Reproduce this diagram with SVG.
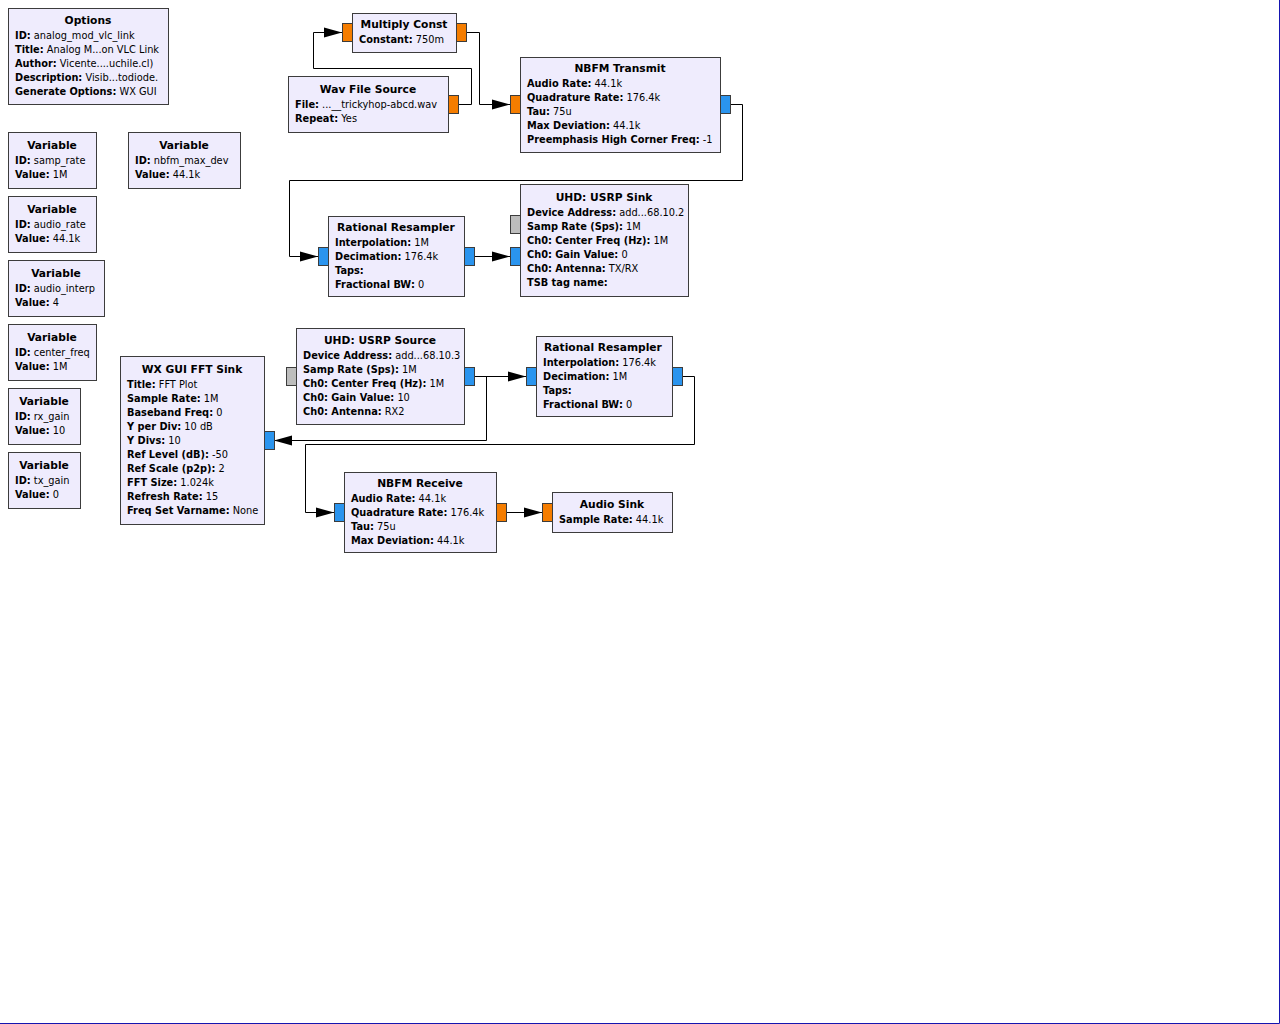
<svg xmlns="http://www.w3.org/2000/svg" width="1280" height="1024" viewBox="0 0 1280 1024">
  <style>
    .blk { fill: #efecfd; stroke: #3c3c3c; stroke-width: 1; }
    .pf { fill: #f57d00; stroke: #3c3c3c; stroke-width: 1; }
    .pc { fill: #2a94ee; stroke: #3c3c3c; stroke-width: 1; }
    .pm { fill: #bdbdbd; stroke: #3c3c3c; stroke-width: 1; }
    text { font-family: "DejaVu Sans", "Liberation Sans", sans-serif; font-size: 9.8px; fill: #000; }
    .t { font-weight: bold; text-anchor: middle; font-size: 10.7px; }
    .k { font-weight: bold; }
    .wire { fill: none; stroke: #000; stroke-width: 1; }
    .arr { fill: #000; stroke: none; }
  </style>

  <rect x="0" y="0" width="1280" height="1024" fill="#ffffff"/>
  <path d="M0 1023.5 H1279.5 V0" fill="none" stroke="#1515b0" stroke-width="1"/>

  <!-- connectors -->
  <g id="connectors">
    <!-- wav source -> multiply const -->
    <path class="wire" d="M458 104.5 H471.5 V68.5 H313.5 V32.5 H342"/>
    <polygon class="arr" points="342,32.5 324,27.5 324,37.5"/>
    <!-- multiply const -> nbfm transmit -->
    <path class="wire" d="M466 32.5 H479.5 V104.5 H510"/>
    <polygon class="arr" points="510,104.5 492,99.5 492,109.5"/>
    <!-- nbfm transmit -> rational resampler (tx) -->
    <path class="wire" d="M730 104.5 H742.5 V180.5 H289.5 V256.5 H318"/>
    <polygon class="arr" points="318,256.5 300,251.5 300,261.5"/>
    <!-- rational resampler (tx) -> usrp sink -->
    <path class="wire" d="M474 256.5 H510"/>
    <polygon class="arr" points="510,256.5 492,251.5 492,261.5"/>
    <!-- usrp source -> rational resampler (rx) -->
    <path class="wire" d="M474 376.5 H526"/>
    <polygon class="arr" points="526,376.5 508,371.5 508,381.5"/>
    <!-- usrp source -> fft sink -->
    <path class="wire" d="M486.5 376.5 V440.5 H274"/>
    <polygon class="arr" points="274,440.5 292,435.5 292,445.5"/>
    <!-- rational resampler (rx) -> nbfm receive -->
    <path class="wire" d="M682 376.5 H694.5 V444.5 H305.5 V512.5 H334"/>
    <polygon class="arr" points="334,512.5 316,507.5 316,517.5"/>
    <!-- nbfm receive -> audio sink -->
    <path class="wire" d="M506 512.5 H542"/>
    <polygon class="arr" points="542,512.5 524,507.5 524,517.5"/>
  </g>

  <!-- options -->
  <g id="options">
    <rect class="blk" x="8.5" y="8.5" width="160" height="96"/>
    <text class="t" x="88" y="24">Options</text>
    <text x="15" y="39"><tspan class="k">ID:</tspan> analog_mod_vlc_link</text>
    <text x="15" y="53"><tspan class="k">Title:</tspan> Analog M...on VLC Link</text>
    <text x="15" y="67"><tspan class="k">Author:</tspan> Vicente....uchile.cl)</text>
    <text x="15" y="81"><tspan class="k">Description:</tspan> Visib...todiode.</text>
    <text x="15" y="95"><tspan class="k">Generate Options:</tspan> WX GUI</text>
  </g>

  <!-- variables -->
  <g id="var_samp_rate">
    <rect class="blk" x="8.5" y="132.5" width="88" height="56"/>
    <text class="t" x="52" y="149">Variable</text>
    <text x="15" y="164"><tspan class="k">ID:</tspan> samp_rate</text>
    <text x="15" y="178"><tspan class="k">Value:</tspan> 1M</text>
  </g>
  <g id="var_audio_rate">
    <rect class="blk" x="8.5" y="196.5" width="88" height="56"/>
    <text class="t" x="52" y="213">Variable</text>
    <text x="15" y="228"><tspan class="k">ID:</tspan> audio_rate</text>
    <text x="15" y="242"><tspan class="k">Value:</tspan> 44.1k</text>
  </g>
  <g id="var_audio_interp">
    <rect class="blk" x="8.5" y="260.5" width="96" height="56"/>
    <text class="t" x="56" y="277">Variable</text>
    <text x="15" y="292"><tspan class="k">ID:</tspan> audio_interp</text>
    <text x="15" y="306"><tspan class="k">Value:</tspan> 4</text>
  </g>
  <g id="var_center_freq">
    <rect class="blk" x="8.5" y="324.5" width="88" height="56"/>
    <text class="t" x="52" y="341">Variable</text>
    <text x="15" y="356"><tspan class="k">ID:</tspan> center_freq</text>
    <text x="15" y="370"><tspan class="k">Value:</tspan> 1M</text>
  </g>
  <g id="var_rx_gain">
    <rect class="blk" x="8.5" y="388.5" width="72" height="56"/>
    <text class="t" x="44" y="405">Variable</text>
    <text x="15" y="420"><tspan class="k">ID:</tspan> rx_gain</text>
    <text x="15" y="434"><tspan class="k">Value:</tspan> 10</text>
  </g>
  <g id="var_tx_gain">
    <rect class="blk" x="8.5" y="452.5" width="72" height="56"/>
    <text class="t" x="44" y="469">Variable</text>
    <text x="15" y="484"><tspan class="k">ID:</tspan> tx_gain</text>
    <text x="15" y="498"><tspan class="k">Value:</tspan> 0</text>
  </g>
  <g id="var_nbfm_max_dev">
    <rect class="blk" x="128.5" y="132.5" width="112" height="56"/>
    <text class="t" x="184" y="149">Variable</text>
    <text x="135" y="164"><tspan class="k">ID:</tspan> nbfm_max_dev</text>
    <text x="135" y="178"><tspan class="k">Value:</tspan> 44.1k</text>
  </g>

  <!-- transmit chain -->
  <g id="multiply_const">
    <rect class="blk" x="352.5" y="13.5" width="104" height="39"/>
    <rect class="pf" x="342.5" y="23.5" width="10" height="18"/>
    <rect class="pf" x="456.5" y="23.5" width="10" height="18"/>
    <text class="t" x="404" y="28">Multiply Const</text>
    <text x="359" y="43"><tspan class="k">Constant:</tspan> 750m</text>
  </g>
  <g id="wav_file_source">
    <rect class="blk" x="288.5" y="76.5" width="160" height="56"/>
    <rect class="pf" x="448.5" y="95.5" width="10" height="18"/>
    <text class="t" x="368" y="93">Wav File Source</text>
    <text x="295" y="108"><tspan class="k">File:</tspan> ...__trickyhop-abcd.wav</text>
    <text x="295" y="122"><tspan class="k">Repeat:</tspan> Yes</text>
  </g>
  <g id="nbfm_tx">
    <rect class="blk" x="520.5" y="57.5" width="200" height="95"/>
    <rect class="pf" x="510.5" y="95.5" width="10" height="18"/>
    <rect class="pc" x="720.5" y="95.5" width="10" height="18"/>
    <text class="t" x="620" y="72">NBFM Transmit</text>
    <text x="527" y="87"><tspan class="k">Audio Rate:</tspan> 44.1k</text>
    <text x="527" y="101"><tspan class="k">Quadrature Rate:</tspan> 176.4k</text>
    <text x="527" y="115"><tspan class="k">Tau:</tspan> 75u</text>
    <text x="527" y="129"><tspan class="k">Max Deviation:</tspan> 44.1k</text>
    <text x="527" y="143"><tspan class="k">Preemphasis High Corner Freq:</tspan> -1</text>
  </g>
  <g id="resampler_tx">
    <rect class="blk" x="328.5" y="216.5" width="136" height="80"/>
    <rect class="pc" x="318.5" y="247.5" width="10" height="18"/>
    <rect class="pc" x="464.5" y="247.5" width="10" height="18"/>
    <text class="t" x="396" y="231">Rational Resampler</text>
    <text x="335" y="246"><tspan class="k">Interpolation:</tspan> 1M</text>
    <text x="335" y="260"><tspan class="k">Decimation:</tspan> 176.4k</text>
    <text x="335" y="274"><tspan class="k">Taps:</tspan></text>
    <text x="335" y="288"><tspan class="k">Fractional BW:</tspan> 0</text>
  </g>
  <g id="usrp_sink">
    <rect class="blk" x="520.5" y="184.5" width="168" height="112"/>
    <rect class="pm" x="510.5" y="215.5" width="10" height="18"/>
    <rect class="pc" x="510.5" y="247.5" width="10" height="18"/>
    <text class="t" x="604" y="201">UHD: USRP Sink</text>
    <text x="527" y="216"><tspan class="k">Device Address:</tspan> add...68.10.2</text>
    <text x="527" y="230"><tspan class="k">Samp Rate (Sps):</tspan> 1M</text>
    <text x="527" y="244"><tspan class="k">Ch0: Center Freq (Hz):</tspan> 1M</text>
    <text x="527" y="258"><tspan class="k">Ch0: Gain Value:</tspan> 0</text>
    <text x="527" y="272"><tspan class="k">Ch0: Antenna:</tspan> TX/RX</text>
    <text x="527" y="286"><tspan class="k">TSB tag name:</tspan></text>
  </g>

  <!-- receive chain -->
  <g id="usrp_source">
    <rect class="blk" x="296.5" y="328.5" width="168" height="96"/>
    <rect class="pm" x="286.5" y="367.5" width="10" height="18"/>
    <rect class="pc" x="464.5" y="367.5" width="10" height="18"/>
    <text class="t" x="380" y="344">UHD: USRP Source</text>
    <text x="303" y="359"><tspan class="k">Device Address:</tspan> add...68.10.3</text>
    <text x="303" y="373"><tspan class="k">Samp Rate (Sps):</tspan> 1M</text>
    <text x="303" y="387"><tspan class="k">Ch0: Center Freq (Hz):</tspan> 1M</text>
    <text x="303" y="401"><tspan class="k">Ch0: Gain Value:</tspan> 10</text>
    <text x="303" y="415"><tspan class="k">Ch0: Antenna:</tspan> RX2</text>
  </g>
  <g id="fft_sink">
    <rect class="blk" x="120.5" y="356.5" width="144" height="168"/>
    <rect class="pc" x="264.5" y="431.5" width="10" height="18"/>
    <text class="t" x="192" y="373">WX GUI FFT Sink</text>
    <text x="127" y="388"><tspan class="k">Title:</tspan> FFT Plot</text>
    <text x="127" y="402"><tspan class="k">Sample Rate:</tspan> 1M</text>
    <text x="127" y="416"><tspan class="k">Baseband Freq:</tspan> 0</text>
    <text x="127" y="430"><tspan class="k">Y per Div:</tspan> 10 dB</text>
    <text x="127" y="444"><tspan class="k">Y Divs:</tspan> 10</text>
    <text x="127" y="458"><tspan class="k">Ref Level (dB):</tspan> -50</text>
    <text x="127" y="472"><tspan class="k">Ref Scale (p2p):</tspan> 2</text>
    <text x="127" y="486"><tspan class="k">FFT Size:</tspan> 1.024k</text>
    <text x="127" y="500"><tspan class="k">Refresh Rate:</tspan> 15</text>
    <text x="127" y="514"><tspan class="k">Freq Set Varname:</tspan> None</text>
  </g>
  <g id="resampler_rx">
    <rect class="blk" x="536.5" y="336.5" width="136" height="80"/>
    <rect class="pc" x="526.5" y="367.5" width="10" height="18"/>
    <rect class="pc" x="672.5" y="367.5" width="10" height="18"/>
    <text class="t" x="603" y="351">Rational Resampler</text>
    <text x="543" y="366"><tspan class="k">Interpolation:</tspan> 176.4k</text>
    <text x="543" y="380"><tspan class="k">Decimation:</tspan> 1M</text>
    <text x="543" y="394"><tspan class="k">Taps:</tspan></text>
    <text x="543" y="408"><tspan class="k">Fractional BW:</tspan> 0</text>
  </g>
  <g id="nbfm_rx">
    <rect class="blk" x="344.5" y="472.5" width="152" height="80"/>
    <rect class="pc" x="334.5" y="503.5" width="10" height="18"/>
    <rect class="pf" x="496.5" y="503.5" width="10" height="18"/>
    <text class="t" x="420" y="487">NBFM Receive</text>
    <text x="351" y="502"><tspan class="k">Audio Rate:</tspan> 44.1k</text>
    <text x="351" y="516"><tspan class="k">Quadrature Rate:</tspan> 176.4k</text>
    <text x="351" y="530"><tspan class="k">Tau:</tspan> 75u</text>
    <text x="351" y="544"><tspan class="k">Max Deviation:</tspan> 44.1k</text>
  </g>
  <g id="audio_sink">
    <rect class="blk" x="552.5" y="492.5" width="120" height="40"/>
    <rect class="pf" x="542.5" y="503.5" width="10" height="18"/>
    <text class="t" x="612" y="508">Audio Sink</text>
    <text x="559" y="523"><tspan class="k">Sample Rate:</tspan> 44.1k</text>
  </g>
</svg>
